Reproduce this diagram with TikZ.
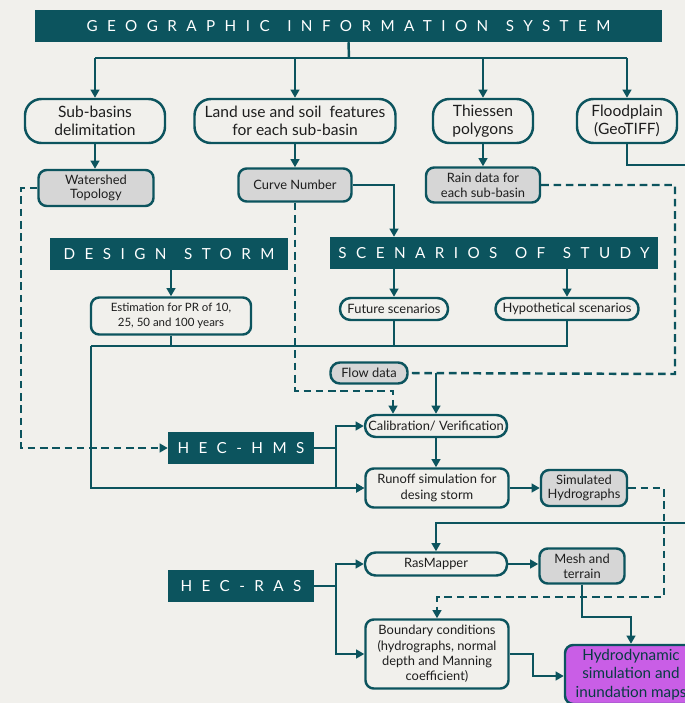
\documentclass[tikz,border=0pt]{standalone}
\usepackage{fontspec}
\setmainfont{Lato}
\newfontfamily\bannerfont[LetterSpace=62]{Lato}
\newcommand{\bgap}{\hspace{15pt}}
\usetikzlibrary{arrows.meta, positioning, calc}
\definecolor{deepteal}{RGB}{12,84,94}
\definecolor{paper}{RGB}{241,240,236}
\definecolor{boxgray}{RGB}{214,214,214}
\definecolor{hydropurple}{RGB}{201,94,230}
\definecolor{inkdark}{RGB}{30,30,30}
\tikzset{
  banner/.style={rectangle, fill=deepteal, text=white, inner sep=0pt,
                 font=\bannerfont\fontsize{13}{15}\selectfont},
  source/.style={rectangle, rounded corners=14pt, draw=deepteal, line width=2.1pt,
                 align=center, inner sep=0pt, text=inkdark,
                 font=\fontsize{13.3}{15}\selectfont},
  databox/.style={rectangle, rounded corners=7pt, draw=deepteal, line width=2.1pt,
                  fill=boxgray, align=center, inner sep=0pt, text=inkdark,
                  font=\fontsize{11}{12.5}\selectfont},
  stepbox/.style={rectangle, rounded corners=7pt, draw=deepteal, line width=2.1pt,
                  align=center, inner sep=0pt, text=inkdark,
                  font=\fontsize{11}{13}\selectfont},
  pillbox/.style={stepbox, rounded corners=9pt},
  resultbox/.style={rectangle, rounded corners=7pt, draw=deepteal, line width=2.1pt,
                    fill=hydropurple, align=center, inner sep=0pt, text=deepteal!70!black,
                    font=\fontsize{13}{16}\selectfont},
  link/.style={draw=deepteal, line width=2.1pt},
  arrow/.style={link, -{Triangle[length=7pt, width=7.5pt]}},
  dashlink/.style={link, dash pattern=on 6.5pt off 4pt},
  dasharrow/.style={dashlink, -{Triangle[length=7pt, width=7.5pt]}},
}

\begin{document}
\begin{tikzpicture}[x=0.03cm, y=-0.03cm]
    \fill[paper] (0,0) rectangle (685,703);
    \useasboundingbox (0,0) rectangle (685,703);

    % banners
    \node[banner, minimum width=18.81cm, minimum height=0.96cm] (gis) at (348.5,26) {GEOGRAPHIC\bgap INFORMATION\bgap SYSTEM};
    \node[banner, minimum width=7.14cm, minimum height=0.96cm] (storm) at (169,254) {DESIGN\bgap STORM};
    \node[banner, minimum width=9.84cm, minimum height=0.96cm] (scen) at (494,253) {SCENARIOS\bgap OF\bgap STUDY};
    \node[banner, minimum width=4.38cm, minimum height=0.96cm] (hms) at (241,448) {HEC-HMS};
    \node[banner, minimum width=4.38cm, minimum height=0.96cm] (ras) at (241,586) {HEC-RAS};

    % GIS products
    \node[source, minimum width=4.2cm, minimum height=1.32cm] (sub) at (95,121) {Sub-basins\\delimitation};
    \node[source, minimum width=6.03cm, minimum height=1.32cm] (land) at (295,121) {Land use and soil\ \ features\\for each sub-basin};
    \node[source, minimum width=3.0cm, minimum height=1.32cm] (thies) at (483,121) {Thiessen\\polygons};
    \node[source, minimum width=3.0cm, minimum height=1.32cm] (flood) at (627,121) {Floodplain\\(GeoTIFF)};

    \node[databox, minimum width=3.45cm, minimum height=1.08cm] (water) at (96,188) {Watershed\\Topology};
    \node[databox, minimum width=3.39cm, minimum height=0.99cm] (curve) at (295,185) {Curve Number};
    \node[databox, minimum width=3.42cm, minimum height=1.05cm] (rain) at (483,185) {Rain data for\\each sub-basin};

    % storm and scenarios
    \node[stepbox, font=\fontsize{9.8}{12.5}\selectfont, minimum width=4.8cm, minimum height=1.11cm] (est) at (171,316) {Estimation for PR of 10,\\25, 50 and 100 years};
    \node[pillbox, minimum width=3.24cm, minimum height=0.66cm] (future) at (394,309) {Future scenarios};
    \node[pillbox, minimum width=4.29cm, minimum height=0.66cm] (hypo) at (567,309) {Hypothetical scenarios};
    \node[databox, rounded corners=8pt, minimum width=2.31cm, minimum height=0.63cm] (flow) at (369,373) {Flow data};

    % HEC-HMS
    \node[pillbox, minimum width=4.26cm, minimum height=0.66cm] (calib) at (436,426) {Calibration/ Verification};
    \node[stepbox, minimum width=4.29cm, minimum height=1.17cm] (runoff) at (437,488) {Runoff simulation for\\desing storm};
    \node[databox, minimum width=2.58cm, minimum height=1.08cm] (simh) at (584,488) {Simulated\\Hydrographs};

    % HEC-RAS
    \node[pillbox, minimum width=4.26cm, minimum height=0.69cm] (rasm) at (436,564) {RasMapper};
    \node[databox, minimum width=2.55cm, minimum height=1.05cm] (mesh) at (582,566) {Mesh and\\terrain};
    \node[stepbox, minimum width=4.29cm, minimum height=2.07cm] (bound) at (437,654) {Boundary conditions\\(hydrographs, normal\\depth and Manning\\coefficient)};
    \node[resultbox, minimum width=3.96cm, minimum height=1.77cm] (hydro) at (631,674.5) {Hydrodynamic\\simulation and\\inundation maps};

    % GIS tree
    \coordinate (gisfork) at (349,58);
    \draw[link] (gis.south) -- (gisfork);
    \draw[link] (sub.north |- gisfork) -- (flood.north |- gisfork);
    \foreach \n in {sub,land,thies,flood}{
      \draw[arrow] (\n.north |- gisfork) -- (\n.north);
    }
    \draw[arrow] (sub.south) -- (sub.south |- water.north);
    \draw[arrow] (land.south) -- (land.south |- curve.north);
    \draw[arrow] (thies.south) -- (rain.north);
    \coordinate (floodout) at (690,165);
    \draw[link] (flood.south) |- (floodout);

    % data to models
    \draw[arrow] (curve.east) -| (future.north |- scen.north);
    \coordinate (cnturn) at (393,391);
    \draw[dasharrow] (curve.south) |- (cnturn) -- (cnturn |- calib.north);
    \coordinate (rainturn) at (675,374);
    \draw[dashlink] (rain.east) -| (rainturn) -- (flow.east);
    \draw[arrow] (flow.east -| calib.north) -- (calib.north);
    \coordinate (wsturn) at (21,448);
    \draw[dasharrow] (water.west) -| (wsturn) -- (hms.west);

    % storm and scenarios
    \draw[arrow] (est.north |- storm.south) -- (est.north);
    \draw[arrow] (future.north |- scen.south) -- (future.north);
    \draw[arrow] (hypo.north |- scen.south) -- (hypo.north);
    \coordinate (join) at (91,346);
    \draw[link] (est.south) -- (est.south |- join);
    \draw[link] (future.south) -- (future.south |- join);
    \draw[link] (hypo.south) -- (hypo.south |- join) -- (join);
    \draw[arrow] (join) |- (runoff.west);

    % HEC-HMS
    \coordinate (hmsfork) at (336,448);
    \draw[link] (hms.east) -- (hmsfork);
    \draw[arrow] (hmsfork) |- (calib.west);
    \draw[arrow] (hmsfork) |- (runoff.west);
    \draw[arrow] (calib.south) -- (calib.south |- runoff.north);
    \draw[arrow] (runoff.east) -- (simh.west);
    \coordinate (simturn) at (664,597);
    \draw[dasharrow] (simh.east) -| (simturn) -| (bound.north);

    % HEC-RAS
    \coordinate (rasin) at (690,523);
    \draw[arrow] (rasin) -| (rasm.north);
    \draw[arrow] (rasm.east) -- (rasm.east -| mesh.west);
    \coordinate (meshturn) at (582,617);
    \draw[arrow] (mesh.south) -- (meshturn) -| (hydro.north);
    \coordinate (rasfork) at (336,586);
    \draw[link] (ras.east) -- (rasfork);
    \draw[arrow] (rasfork) |- (rasm.west);
    \draw[arrow] (rasfork) |- (bound.west);
    \coordinate (boundturn) at (533,676);
    \draw[arrow] (bound.east) -| (boundturn) -- (boundturn -| hydro.west);
\end{tikzpicture}
\end{document}
